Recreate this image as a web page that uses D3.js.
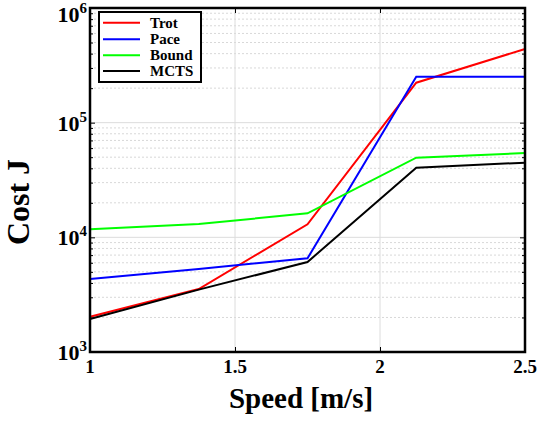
<!DOCTYPE html>
<html><head><meta charset="utf-8">
<script src="https://cdn.jsdelivr.net/npm/d3@7"></script>
<style>body{margin:0;background:#fff}svg{display:block}</style>
</head><body>
<script>
const speeds = [1, 1.375, 1.75, 2.125, 2.5];
const trot  = [2030, 3540, 13000, 223000, 439000];
const pace  = [4330, 5300, 6560, 252000, 251000];
const bound = [11750, 13060, 16200, 49500, 54400];
const mcts  = [1940, 3500, 6090, 40500, 44800];
const seriesNames = ["Trot", "Pace", "Bound", "MCTS"];
const seriesColors = ["#ff0000", "#0000ff", "#00ff00", "#000000"];
const xTicks = [1, 1.5, 2, 2.5];
const xTickLabels = ["1", "1.5", "2", "2.5"];
const yTicks = [1e3, 1e4, 1e5, 1e6];
const yTickExps = ["3", "4", "5", "6"];

const W = 540, H = 424;
const L = 90, R = 525, T = 8, B = 352;
const svg = d3.select("body").append("svg").attr("width", W).attr("height", H);
const x = d3.scaleLinear().domain([1, 2.5]).range([L, R]);
const y = d3.scaleLog().domain([1e3, 1e6]).range([B, T]);
const font = "'Liberation Serif', 'Times New Roman', serif";

// minor grid
const minors = [];
yTicks.slice(0, 3).forEach(d => { for (let k = 2; k <= 9; k++) minors.push(d * k); });
svg.append("g").selectAll("line").data(minors).join("line")
  .attr("x1", L).attr("x2", R).attr("y1", d => y(d)).attr("y2", d => y(d))
  .attr("stroke", "#d8d8d8").attr("stroke-width", 1).attr("stroke-dasharray", "2,2");
// major grid
svg.append("g").selectAll("line").data(yTicks).join("line")
  .attr("x1", L).attr("x2", R).attr("y1", d => y(d)).attr("y2", d => y(d))
  .attr("stroke", "#dcdcdc").attr("stroke-width", 1);
svg.append("g").selectAll("line").data(xTicks).join("line")
  .attr("y1", T).attr("y2", B).attr("x1", d => x(d)).attr("x2", d => x(d))
  .attr("stroke", "#dcdcdc").attr("stroke-width", 1);

// axes (ticks inward)
svg.append("g").attr("transform", `translate(0,${B})`)
  .call(d3.axisTop(x).tickValues(xTicks).tickSize(5).tickFormat(""))
  .call(g => g.select(".domain").remove());
svg.append("g").attr("transform", `translate(0,${T})`)
  .call(d3.axisBottom(x).tickValues(xTicks).tickSize(5).tickFormat(""))
  .call(g => g.select(".domain").remove());
svg.append("g").attr("transform", `translate(${L},0)`)
  .call(d3.axisRight(y).tickValues(yTicks).tickSize(5).tickFormat(""))
  .call(g => g.select(".domain").remove());
svg.append("g").attr("transform", `translate(${L},0)`)
  .call(d3.axisRight(y).tickValues(minors).tickSize(3).tickFormat(""))
  .call(g => g.select(".domain").remove());
svg.append("g").attr("transform", `translate(${R},0)`)
  .call(d3.axisLeft(y).tickValues(yTicks).tickSize(5).tickFormat(""))
  .call(g => g.select(".domain").remove());
svg.append("g").attr("transform", `translate(${R},0)`)
  .call(d3.axisLeft(y).tickValues(minors).tickSize(3).tickFormat(""))
  .call(g => g.select(".domain").remove());
svg.selectAll(".tick line").attr("stroke", "#000").attr("stroke-width", 1);

// lines
const allSeries = [trot, pace, bound, mcts];
const line = d3.line().x((d, i) => x(speeds[i])).y(d => y(d));
allSeries.forEach((s, i) => {
  svg.append("path").datum(s).attr("d", line)
    .attr("fill", "none").attr("stroke", seriesColors[i]).attr("stroke-width", 2);
});

// frame
svg.append("rect").attr("x", L).attr("y", T).attr("width", R - L).attr("height", B - T)
  .attr("fill", "none").attr("stroke", "#000").attr("stroke-width", 2.5);

// x tick labels
svg.append("g").selectAll("text").data(xTicks).join("text")
  .attr("x", d => x(d)).attr("y", 373).attr("text-anchor", "middle")
  .attr("font-family", font).attr("font-weight", "bold").attr("font-size", 19)
  .text((d, i) => xTickLabels[i]);

// y tick labels
const yl = svg.append("g").selectAll("text").data(yTicks).join("text")
  .attr("x", 87).attr("y", d => Math.max(y(d) + 8, 22)).attr("text-anchor", "end")
  .attr("font-family", font).attr("font-weight", "bold").attr("font-size", 22);
yl.append("tspan").text("10");
yl.append("tspan").attr("dy", -9).attr("font-size", 15).text((d, i) => yTickExps[i]);

// axis titles
svg.append("text").attr("x", 301).attr("y", 408).attr("text-anchor", "middle")
  .attr("font-family", font).attr("font-weight", "bold").attr("font-size", 29)
  .text("Speed [m/s]");
svg.append("text").attr("transform", "translate(29,202) rotate(-90)").attr("text-anchor", "middle")
  .attr("font-family", font).attr("font-weight", "bold").attr("font-size", 32)
  .text("Cost J");

// legend
const lg = svg.append("g");
lg.append("rect").attr("x", 99).attr("y", 12).attr("width", 102).attr("height", 70)
  .attr("fill", "#fff").attr("stroke", "#000").attr("stroke-width", 2);
const ly = [22.7, 39.3, 55.3, 71];
seriesNames.forEach((n, i) => {
  lg.append("line").attr("x1", 103).attr("x2", 140).attr("y1", ly[i]).attr("y2", ly[i])
    .attr("stroke", seriesColors[i]).attr("stroke-width", 2);
  lg.append("text").attr("x", 150).attr("y", ly[i] + 5)
    .attr("font-family", font).attr("font-weight", "bold").attr("font-size", 15).text(n);
});
</script>
</body></html>
